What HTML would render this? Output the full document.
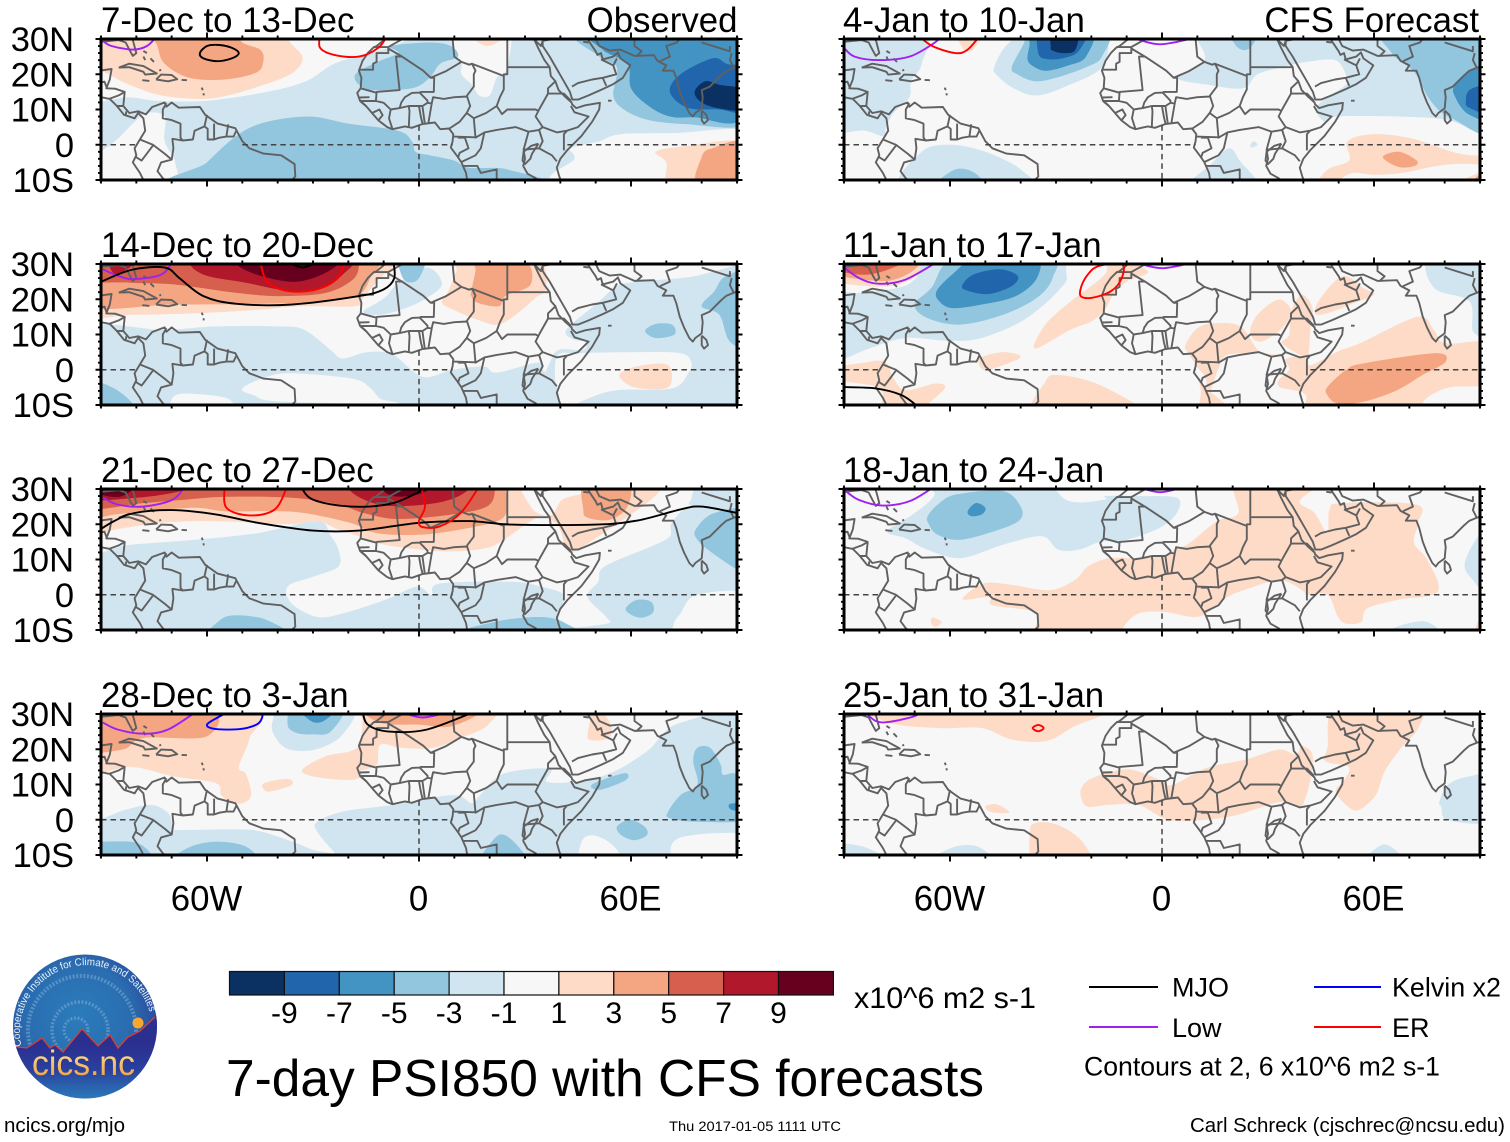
<!DOCTYPE html>
<html lang="en">
<head>
<meta charset="utf-8">
<title>7-day PSI850 with CFS forecasts</title>
<style>
html,body{margin:0;padding:0;background:#fff;width:1510px;height:1142px;overflow:hidden}
svg{display:block}
text{font-family:"Liberation Sans",Arial,sans-serif;fill:#000}
</style>
</head>
<body>
<svg id="chart" xmlns="http://www.w3.org/2000/svg" width="1510" height="1142" viewBox="0 0 1510 1142">
  <rect width="1510" height="1142" fill="#fff"/>
  <defs>
    <radialGradient id="skyGrad" gradientUnits="userSpaceOnUse" cx="78" cy="1015" r="80">
      <stop offset="0" stop-color="#2b7cba"/><stop offset="0.65" stop-color="#2a6db0"/><stop offset="1" stop-color="#2b4a9c"/>
    </radialGradient>
    <linearGradient id="groundGrad" gradientUnits="userSpaceOnUse" x1="0" y1="1045" x2="0" y2="1098">
      <stop offset="0" stop-color="#2b2f90"/><stop offset="0.45" stop-color="#2a3f9c"/><stop offset="1" stop-color="#2a78b8"/>
    </linearGradient>
    <linearGradient id="cicsGrad" gradientUnits="userSpaceOnUse" x1="0" y1="1052" x2="0" y2="1076">
      <stop offset="0" stop-color="#fbdc8a"/><stop offset="1" stop-color="#f2a54a"/>
    </linearGradient>
    <clipPath id="logoClip"><circle cx="85" cy="1026.5" r="72"/></clipPath>
    <path id="logoArc" d="M 21.5 1046 A 66 66 0 1 1 151 1017"/>
  </defs>
  <g id="panels"></g>
  <g id="colorbar"></g>
  <text x="854" y="1008" font-size="30" textLength="182" lengthAdjust="spacingAndGlyphs">x10^6 m2 s-1</text>
  <text x="226" y="1096" font-size="51.5" textLength="758" lengthAdjust="spacingAndGlyphs">7-day PSI850 with CFS forecasts</text>
  <g>
    <line x1="1089" x2="1158" y1="987" y2="987" stroke="#000" stroke-width="2"/>
    <text x="1172" y="996.5" font-size="27">MJO</text>
    <line x1="1314" x2="1381" y1="987" y2="987" stroke="#0000ff" stroke-width="2"/>
    <text x="1392" y="996.5" font-size="27" textLength="109" lengthAdjust="spacingAndGlyphs">Kelvin x2</text>
    <line x1="1089" x2="1158" y1="1027" y2="1027" stroke="#a020f0" stroke-width="2"/>
    <text x="1172" y="1037" font-size="27">Low</text>
    <line x1="1314" x2="1381" y1="1027" y2="1027" stroke="#ff0000" stroke-width="2"/>
    <text x="1392" y="1037" font-size="27">ER</text>
    <text x="1084" y="1075.5" font-size="27" textLength="356" lengthAdjust="spacingAndGlyphs">Contours at 2, 6 x10^6 m2 s-1</text>
  </g>
  <g>
    <circle cx="85" cy="1026.5" r="72" fill="url(#skyGrad)"/>
    <g clip-path="url(#logoClip)" fill="none" stroke="#9cc4e4" stroke-opacity="0.4" stroke-dasharray="2 1.6">
      <circle cx="82" cy="1030" r="54" stroke-width="4"/>
      <circle cx="80" cy="1030" r="28" stroke-width="3.5"/>
      <circle cx="76" cy="1030" r="12" stroke-width="3"/>
    </g>
    <circle cx="138" cy="1023" r="5.5" fill="#f7a832"/>
    <path clip-path="url(#logoClip)" d="M0 1047 L18 1047 L27 1048 L42 1038 L50 1048 L55 1045 L63 1052 L82 1029 L98 1046 L110 1035 L118 1048 L128 1037 L140 1031 L155 1017 L170 1005 L170 1110 L0 1110 Z" fill="url(#groundGrad)"/>
    <path clip-path="url(#logoClip)" d="M0 1047 L18 1047 L27 1048 L42 1038 L50 1048 L55 1045 L63 1052 L82 1029 L98 1046 L110 1035 L118 1048 L128 1037 L140 1031 L155 1017" fill="none" stroke="#d8402f" stroke-width="1.3"/>
    <text font-size="10.5" style="fill:#e8f0f8"><textPath href="#logoArc" textLength="203" lengthAdjust="spacingAndGlyphs">Cooperative Institute for Climate and Satellites</textPath></text>
    <text x="32" y="1075" font-size="35" textLength="103" lengthAdjust="spacingAndGlyphs" style="fill:url(#cicsGrad)">cics.nc</text>
  </g>
  <text x="4" y="1132" font-size="20.5" textLength="121" lengthAdjust="spacingAndGlyphs">ncics.org/mjo</text>
  <text x="669" y="1131" font-size="14" textLength="172" lengthAdjust="spacingAndGlyphs">Thu 2017-01-05 1111 UTC</text>
  <text x="1190" y="1132" font-size="20.5" textLength="315" lengthAdjust="spacingAndGlyphs">Carl Schreck (cjschrec@ncsu.edu)</text>
</svg>
<script>
/* ---------- labels and scale data ---------- */
const panelTitles = ['7-Dec to 13-Dec','14-Dec to 20-Dec','21-Dec to 27-Dec','28-Dec to 3-Jan','4-Jan to 10-Jan','11-Jan to 17-Jan','18-Jan to 24-Jan','25-Jan to 31-Jan'];
const columnHeadings = ['Observed','CFS Forecast'];
const latTickValues = [30,20,10,0,-10];
const latTickLabels = ['30N','20N','10N','0','10S'];
const lonTickValues = [-60,0,60];
const lonTickLabels = ['60W','0','60E'];
const bandValues = [-10,-8,-6,-4,-2,0,2,4,6,8,10];
const bandColors = ['#0a3162','#2166ac','#4393c3','#92c5de','#d1e5f0','#f7f7f7','#fddbc7','#f4a582','#d6604d','#b2182b','#67001f'];
const colorbarTickLabels = ['-9','-7','-5','-3','-1','1','3','5','7','9'];
const lineColors = {MJO:'#000000',Low:'#a020f0',Kelvin:'#0000ff',ER:'#ff0000'};

/* ---------- filled contours: [band, [[lon,lat],...]] ---------- */
const panel1Contours = [
[-2,[[-110,45],[110,45],[110,-25],[-110,-25]]],
[0,[[-95,36],[3,36],[-5,29],[-14,26],[-24,23],[-32,18],[-43,15],[-60,12.5],[-74,12.5],[-82,13.5],[-95,14]]],
[0,[[-95,-6],[-86,1],[-81,6],[-77,9],[-72,8],[-72,1],[-69,-5],[-71,-11],[-95,-12]]],
[0,[[10,35],[25,35],[25,22],[22,19],[20,14],[17,14],[15,17],[12,20],[12,23],[10,26]]],
[0,[[40,-11],[44,-4],[43,-1],[51,1],[57,3],[72,3.3],[95,3.3],[95,-12]]],
[2,[[-95,36],[-37,36],[-37,30],[-33,25],[-35,21],[-41,18],[-54,14],[-62,13],[-73,14],[-82,17],[-90,21],[-95,22]]],
[4,[[-75,33],[-74,28],[-72,23],[-65,19],[-55,18.5],[-46,20.5],[-44,24],[-45,27],[-50,29],[-54,33]]],
[2,[[15,31],[24,31],[23,29.5],[19,28]]],
[-4,[[-8,28],[3,29],[9,28],[11,25],[6,23],[3,19],[-2,16],[-13,15.5],[-17,17],[-18,20],[-13,23],[-6,26]]],
[-4,[[-66,-12],[-60,-5],[-51,3],[-43,6.5],[-31,8],[-20,6],[-6,4],[-2,1],[-1,-2],[3,-3],[10,-4.5],[14,-6.5],[25,-7],[31,-12]]],
[-4,[[46,33],[51,25],[56,22],[55,14],[58,10],[65,7],[76,5.8],[92,5.5],[96,15],[96,35]]],
[-6,[[50,33],[52,27],[59,23],[60,16],[65,11],[71,8],[78,7.8],[92,8],[96,34]]],
[-8,[[71,15],[74,20],[83,24.5],[87,23],[92,21],[95,9],[85,10],[76,10.5]]],
[-10,[[78,15],[81,18],[85,17],[92,15.5],[92,10],[85,10.3],[80,12]]],
[2,[[67,-2],[75,-0.5],[92,0.5],[94,-12],[72,-12],[70,-5]]],
[4,[[80,-3.5],[83,-1],[92,0.5],[94,-12],[79,-12]]]
];
const panel2Contours = [
[-2,[[-95,11],[-72,11.3],[-57.5,12.3],[-39.6,12.3],[-32.4,11.3],[-25,5.6],[-21.6,3.2],[-14.5,5],[-7.3,4.2],[1,-2],[9.5,0],[18.4,0.9],[22,-0.8],[33.4,2],[35,0],[38,-3],[39.4,-7],[39.5,-13],[-95,-13]]],
[0,[[-50,-5.3],[-43,-2],[-36,-1],[-19,-2.5],[-14,-5],[-11,-8.2],[-7.3,-9.6],[-39.6,-9],[-46.8,-7.2]]],
[0,[[-69.5,-7.7],[-64.7,-6.8],[-54,-8.2],[-54,-12],[-69,-12]]],
[-4,[[-92,-4],[-86.3,-5.3],[-81,-9.6],[-81,-12],[-92,-12]]],
[-2,[[41.7,11.3],[50,18.5],[56,23.7],[62,25],[74,26],[80,27],[91,30],[96,32],[96,-13],[39.4,-13],[38,4.2],[46.5,5.6],[47,8],[44,8.5]]],
[0,[[39.4,4.2],[45.3,4.7],[62,5],[74,4.7],[77,2.3],[76.4,-0.6],[71.6,-5.3],[56,-5.8],[47.7,-8.2],[42.5,-11],[40,-13],[39.5,-7],[38.5,-2]]],
[-4,[[80,18],[83.6,22.3],[86,26],[91,28],[94,26],[94,7],[88,8],[85,15.6]]],
[-2,[[-15.7,16.5],[-9.7,20.4],[-6,24.4],[2.3,29],[6.5,24.4],[2.3,20.4],[-3.7,17.5],[-11,15.6]]],
[-4,[[-5.5,32],[1.7,32],[0,26],[-3,24.8],[-5,27]]],
[-4,[[64,11],[67,13],[71.6,12.8],[72.3,10],[67,9]]],
[2,[[56.7,-1.5],[62,1],[70.5,1.3],[70.5,-5],[61,-5]]],
[2,[[-96,16],[-81.5,15.6],[-63.5,16],[-45.6,17],[-33.6,18],[-18,18],[-15.7,20.4],[-11,26],[-6.7,30],[-6.7,36],[-96,36]]],
[4,[[-96,18.5],[-69.5,18.5],[-45.6,18.7],[-27.6,19.4],[-17,21.3],[-13.3,27],[-11,30],[-11,36],[-96,36]]],
[6,[[-96,26],[-81.5,24.7],[-69.5,24.2],[-51.6,21.8],[-39.6,20.9],[-26.4,21.8],[-18.7,25.6],[-16.9,30],[-16.9,36],[-96,36]]],
[8,[[-64,31],[-61,27],[-49,24.7],[-36,22.3],[-26.4,23.7],[-21.6,27],[-19,31],[-30,34],[-50,34]]],
[8,[[-87.5,31],[-85.6,27],[-80,31]]],
[10,[[-51,31],[-47.4,27.5],[-37,25],[-30,26],[-24,29],[-23.4,31],[-35,34]]],
[2,[[6.5,19],[8.3,22.3],[10.6,28],[11.8,31],[33,31],[36,23.2],[33,20.4],[28.6,16.6],[22.6,12.8],[16.6,14.2],[10.6,16.6]]],
[4,[[14.8,22.3],[16,28],[16.6,31],[29.8,31],[31.6,24.2],[24.4,20.9],[22.6,18],[16.6,19],[14.8,20.9]]]
];
const panel3Contours = [
[-2,[[-110,45],[110,45],[110,-25],[-110,-25]]],
[0,[[-96,12.8],[-81.5,14.2],[-63.5,15.6],[-45.6,17.5],[-28.8,20.9],[-25.2,17],[-22.8,12.8],[-22.8,8],[-30,5.1],[-37.2,2.3],[-36,-2.5],[-28.8,-6.3],[-21.6,-5.3],[-9.7,-1.5],[-0.7,2.3],[3.5,0],[5.9,3.2],[26.2,3.7],[34.6,2.3],[41,0],[40,-4.4],[40.5,-9.1],[53,-8.2],[53,-6.3],[47.7,-0.6],[50.7,3.7],[52.5,8],[65.7,13.7],[71,16.6],[71.6,20.4],[77.6,25],[96,24.7],[96,36],[-96,36]]],
[0,[[74,-5.3],[78.8,0],[94,0],[94,-12],[73.4,-12],[72,-8.7]]],
[-2,[[77,27],[80,31],[94,31],[94,23],[78,25]]],
[-4,[[78.3,18.5],[83.6,23.2],[94,23.2],[94,6.6],[91,6.6],[82.4,12.3],[78.8,15.6]]],
[-4,[[58.5,-3.9],[61.5,-1.5],[65.7,-2],[66.3,-4.9],[63.3,-6.5],[60.3,-5.8]]],
[-4,[[-58.7,-12],[-56.3,-7.2],[-51.6,-5.8],[-43,-7.2],[-37,-12]]],
[-4,[[9.5,-12],[21.4,-7.7],[34.6,-6.3],[41.7,-8.2],[44,-12]]],
[2,[[-96,17],[-86,18.5],[-73,20.4],[-57.5,20.9],[-37,20],[-28.8,20.9],[-22.8,18.5],[-16.9,16.6],[-9.7,14.2],[2.3,12.6],[9.5,12.3],[17.9,13],[22.6,14.7],[31,20.4],[35,22.3],[39.4,19.4],[41.7,13.2],[44,12.3],[53.7,18.5],[62,24.2],[66.8,28],[68.7,31],[68,36],[-96,36]]],
[0,[[29.8,32],[31.6,25],[35,22.6],[38,23],[40.6,27],[46.6,29],[47,32]]],
[4,[[-96,22],[-86,22.8],[-77.5,23.7],[-63.5,24.7],[-55,23.7],[-42,23.7],[-32.5,23.2],[-19.5,20.4],[-12,17.5],[0,17],[11.6,18.5],[23,21.3],[25,26],[24,32],[24,36],[-96,36]]],
[4,[[46.5,24.2],[47.7,21.9],[54,21.3],[59,25],[59,32],[47,32]]],
[6,[[-96,24.7],[-78,26],[-66,27],[-54,27.8],[-36,27.5],[-22.8,25.6],[-15.7,23.2],[-6,21.5],[9.5,22.8],[19.6,25.3],[21.6,31],[21,36],[-96,36]]],
[8,[[-96,27.5],[-80,27.5],[-67,29.5],[-64,32],[-64,36],[-96,36]]],
[8,[[-19.5,31],[-11,25.5],[4.7,26],[13,29],[13.5,32],[0,35]]],
[10,[[-92,32],[-80,32],[-84,28],[-90,28.5]]],
[10,[[-11,31],[-7.3,28],[0,28.5],[3.5,31],[-3,33]]]
];
const panel4Contours = [
[-2,[[-96,-0.5],[-89.4,0.5],[-83.2,2.8],[-75.7,4.2],[-71,1.9],[-69.6,-2],[-69,-2.9],[-52,-2.7],[-44.5,-3.4],[-35,-6.5],[-30,-8.5],[-24,-10],[-24,-13],[-96,-13]]],
[-2,[[-28.8,-0.6],[-21.6,2.3],[-7.3,4.2],[9.5,7],[14.9,4.7],[17.3,7],[23.8,13],[37,14.5],[36,10.9],[43,10.7],[53.7,13],[64.5,19.4],[74,27.5],[96,28],[96,-13],[-21.6,-13],[-23.4,-10],[-28.8,-3.4]]],
[0,[[46,-6.3],[49,-4.4],[53.7,-6.3],[57,-10],[57,-13],[46,-13]]],
[0,[[73.4,-5.3],[94,-4.4],[94,-13],[74,-13]]],
[-4,[[70.5,2.3],[74,7],[78.8,10],[77.6,16.6],[78.8,20.4],[82.4,20.4],[85.4,15.6],[86,12.8],[90,12.8],[93,6],[93,0],[78.8,-0.6],[71,0.4]]],
[-6,[[88,4.5],[93,4.5],[93,2.5],[88.5,2.8]]],
[-4,[[49,10],[58,13.2],[58.6,11.3],[51.3,8.5]]],
[-4,[[56,-2],[59.7,0],[63.9,-2],[64.5,-4.4],[60.9,-5.8],[57.3,-4.4]]],
[-4,[[-70,-12],[-68,-9.5],[-63.4,-7.2],[-57,-6.2],[-50,-7.2],[-46.5,-9.5],[-45,-12]]],
[-4,[[17.8,-12],[21.4,-5.3],[24.4,-4.4],[28.6,-8.2],[30,-12]]],
[-4,[[-94,-6.2],[-89.5,-6.2],[-82,-6.2],[-78.5,-7.2],[-76,-9.5],[-75,-12],[-94,-12]]],
[-2,[[-41.4,28],[-38,32],[-19,32],[-21.6,24.2],[-29,20],[-37,20],[-41,24]]],
[-4,[[-37.2,27],[-35,32],[-21.6,32],[-25,25],[-30,24.2],[-34.8,24.7]]],
[-6,[[-33.6,32],[-23.4,32],[-27,28],[-30.6,28]]],
[2,[[-96,14],[-81.5,15],[-69.5,12.3],[-57.5,10.4],[-56,7],[-53,5],[-50,4.7],[-47.5,7],[-49,13],[-51,15],[-48,23],[-47.5,32],[-96,36]]],
[4,[[-96,20.4],[-84,19.9],[-78,23.2],[-60,23.7],[-60,32],[-96,36]]],
[2,[[-33,14.2],[-26.4,18],[-17.5,20.4],[-16,28],[-15.7,33],[19.6,33],[19.6,27],[11.8,23.2],[4,20.4],[-5,20.4],[-11,21.3],[-12,15.6],[-17,13.7],[-17,11.8],[-21.6,11.3],[-30,12.3]]],
[4,[[-14,32],[-11,27.5],[0,27],[9.5,26.6],[17,32]]],
[2,[[-43.8,10.4],[-37.2,11.6],[-36,9.9],[-42,8],[-43.8,8.5]]],
[2,[[47.7,24.2],[50,32],[54.3,27],[53.7,23.2],[49,22.5]]]
];
const panel5Contours = [
[-2,[[-96,33],[-68,33],[-68,23],[-71,18],[-71.5,13.5],[-76,9],[-78,5],[-79,2.5],[-84,4],[-96,6]]],
[-2,[[-47.5,22],[-45,27],[-41,31],[-38,33],[-14,33],[-15,30],[-15.5,25],[-18,21],[-25,17.5],[-35,14],[-42,16],[-47,20]]],
[-4,[[-42.5,22],[-39,29],[-38,33],[-16,33],[-17,25],[-21.5,22],[-30,19],[-36,18],[-41,20]]],
[-6,[[-38,24],[-37.5,28],[-36,33],[-20,33],[-21.5,25],[-26.5,22.5],[-32.5,21],[-36,22]]],
[-8,[[-35,26],[-34,33],[-21.5,33],[-23.5,26.7],[-27.7,24.6],[-32.5,24.3]]],
[-10,[[-31.5,28],[-31,33],[-24,33],[-24.5,27],[-27.7,26],[-31,26.7]]],
[-2,[[10,34],[97,34],[97,3],[81,7],[66,8],[49.5,8],[46,6.5],[44,11],[52,17],[52,20],[49,24],[41,23.5],[34,22],[27,20],[23,16],[13,17],[4.5,19],[12,24],[10,30]]],
[-4,[[63,34],[65,26],[71.5,20.5],[76,12.5],[82,7.5],[95,4],[95,34]]],
[-6,[[83,13.5],[83,17],[89.5,22],[95,20],[95,7],[87,8.5]]],
[-8,[[86,12.5],[87,15.5],[92,17],[95,15],[95,8],[87,10.5]]],
[-4,[[19,33],[27,33],[25,27.5],[21.5,27.5]]],
[-2,[[-73,-12],[-68,-2],[-60,0],[-50,-2],[-40,-7],[-39,-12]]],
[-4,[[-64,-12],[-58.5,-7],[-53,-8],[-51,-12]]],
[-2,[[8,-12],[14,-5.4],[19,-1],[22,-4.5],[26.5,-12]]],
[-2,[[25,0],[26,1],[27,0],[25.5,-0.8]]],
[2,[[43,-12],[47,-7],[53,-4.4],[52.5,1],[60,3],[71,1.7],[84,-2.5],[95,-3.5],[95,-6],[86,-5.4],[78,-6],[68,-8],[60,-8.5],[54,-8],[50,-10],[46,-12]]],
[4,[[62.5,-3.5],[67,-2],[72,-4.4],[71.5,-6],[67,-6.3]]],
[2,[[82,-12],[92,-7],[95,-7],[95,-12]]],
[4,[[87,-12],[92,-7],[94,-12]]],
[2,[[-58,32],[-51,32],[-53.5,27],[-56,27]]]
];
const panel6Contours = [
[2,[[-96,26],[-77,23.7],[-67,28.5],[-63,33],[-96,34]]],
[4,[[-96,28],[-77,25.3],[-69,32],[-96,34]]],
[6,[[-96,29.5],[-83,27],[-72.5,32],[-96,34]]],
[-2,[[-96,3],[-90,3.2],[-83,6],[-72.5,9],[-60.5,8.2],[-51,9],[-39,14.2],[-29.4,22.3],[-27,27],[-32,33],[-63,33],[-70,25.6],[-75,23.2],[-85.7,21.8],[-96,20.9]]],
[-4,[[-70,18.5],[-65.3,23.2],[-58,32],[-32,32],[-31,26],[-35.4,20.4],[-45,15.6],[-57,12.8],[-66.5,14.7]]],
[-6,[[-63.8,22.3],[-59.4,27],[-52,32],[-36,32],[-35.4,26],[-41.4,20.9],[-51,18.5],[-59.4,17.5],[-63,19.4]]],
[-8,[[-56.6,23.7],[-53.4,27],[-46,28.5],[-40.8,26.6],[-42.6,23.7],[-49,21.5],[-54.6,22.3]]],
[-2,[[76,32],[77,23.2],[87,19.4],[88,10.9],[92,10.4],[95,20],[95,32]]],
[2,[[-36,6],[-33,12.8],[-25.8,19.4],[-16.2,27],[-15,32],[-4,28],[-10,25],[-13.8,21.3],[-16.2,17],[-20,13.7],[-26,11.3]]],
[2,[[25,10.4],[27,15.6],[33,19.9],[36.6,16.6],[34,11.8],[28,8]]],
[2,[[36.6,16.6],[39.6,21.3],[42.6,17.5],[42,11.8],[41.4,4.2],[40,3.7],[34,7.5],[36,9.9]]],
[2,[[43.8,18.5],[48,24.2],[52,26.6],[57,23.2],[60,21.3],[54.6,19],[48.6,16.6],[43.8,15.6]]],
[2,[[6.6,7],[10,11.8],[15,13.2],[22.2,12.3],[27.6,5.1],[32.4,4.2],[27,4.7],[18.6,4.2],[16,0.4],[12.6,-9.6],[11.4,-12],[12.6,-3.4],[9.6,1.3],[7.2,5.1]]],
[2,[[42,1.3],[50,5.3],[56,7.5],[72.3,15],[77,11.2],[80.3,7.5],[94,7.5],[94,-3.4],[82,-4.9],[77,-6.7],[74,-9],[72,-13],[43,-13],[40.5,-7],[33.5,-5],[33,-3],[36,0],[35,3],[40,3.7]]],
[4,[[46.8,-4.9],[52.2,0],[57,1.8],[77.3,4.7],[80.3,2.3],[73.7,-1.5],[66.5,-5.8],[57,-9.1],[49.8,-9.6],[46.8,-7.2]]],
[2,[[-35.4,-13],[-33,-3.4],[-29.4,-1.5],[-18.6,-3.9],[-5.4,-11],[-5,-13]]],
[2,[[10.2,-2.5],[12.6,-5.3],[18,-10],[19,-13],[11,-13],[11,-6]]],
[2,[[-96,0],[-85.7,1.8],[-78.5,2.3],[-76,-2.5],[-72.5,-5.8],[-64,-3.9],[-61.5,-5.3],[-67.5,-11],[-68,-13],[-79,-13],[-80,-5.3],[-96,-2.5]]],
[2,[[-51.6,3.2],[-45,5],[-40,3.7],[-45,1.3],[-50.4,0]]]
];
const panel7Contours = [
[-2,[[-77.7,18],[-70.5,22.8],[-64.5,28],[-64,33],[-36,33],[-26.4,26.6],[-16.2,27],[-16,28],[-6.6,28],[4.2,27.5],[4.2,23.2],[-0.6,19],[-10,15.6],[-17.4,15],[-23.4,12.8],[-29.4,12.8],[-34,16.6],[-45,14.2],[-57,10.4],[-66.5,12.8],[-72.5,16]]],
[-4,[[-66.3,22.3],[-63,26],[-58,28.5],[-45,29.4],[-40,25],[-40.2,21.3],[-46,18.5],[-57,15.6],[-63.5,17],[-66,20]]],
[-6,[[-55,23.7],[-52.7,26],[-50,24.7],[-51,22.8],[-54,22.3]]],
[2,[[-24.6,4.2],[-21,8],[-15,10.4],[-7.8,10.4],[0.6,11.3],[3.6,12.8],[7.8,14.7],[15.6,20.9],[21.6,23.2],[21.6,33],[45,33],[39,26.6],[43.2,23.2],[46.8,17.5],[47.4,24.2],[51,26],[72,25.6],[72.5,20.4],[71.3,14.7],[75,10],[78,0.9],[66.5,-1.5],[58,-3.9],[56.4,-7.7],[52.2,-8.2],[49.8,-6.3],[46.8,0],[40.8,0],[40.2,0.9],[35.4,3.7],[30.6,3.7],[24.6,1.8],[18.6,-0.6],[13.2,-4.9],[9,-6.3],[0.6,-4.9],[-6.6,-5.3],[-10.8,-9.1],[-10.8,-13],[-35,-13],[-35.4,-5.3],[-48,-3],[-48.6,-0.6],[-56.4,-1.3],[-50.4,3.2],[-42.6,2.8],[-31.8,1.3]]],
[2,[[-65,-6.5],[-62.4,-7.7],[-64,-9.1],[-65.3,-8.2]]],
[2,[[88.7,-11],[90.2,-6.3],[93,-6],[93,-13]]],
[-2,[[85.7,9],[90.2,17.5],[94,17.5],[94,-1],[88,4.2]]],
[-2,[[61.8,-12],[67.7,-8.7],[75,-7.7],[78.5,-12]]]
];
const panel8Contours = [
[2,[[-82,33],[-77,27.5],[-63,26],[-51,26],[-42.6,22.8],[-33,22.3],[-25.8,26],[-16.2,33]]],
[2,[[46.8,20.4],[49.8,33],[72.7,33],[72.5,26],[67.7,20.4],[63,13.7],[60.5,7],[55.8,2.8],[52.7,3.7],[49.2,8],[51.6,11.3],[52.8,15],[46.2,16.6]]],
[2,[[-22.8,9],[-19.8,11.8],[-11.4,14.2],[-6.6,13.7],[-0.6,11.3],[3,9.9],[12.6,14.7],[23.4,17],[33,19.9],[37.8,18.5],[39.6,20.9],[42.6,18.5],[42,11.3],[40.2,5.1],[39,3.7],[34.2,5.1],[27,3.2],[21,1.3],[12.6,0],[1.8,0],[-6.6,4.2],[-15,4.2],[-21,3.7],[-22.8,6]]],
[2,[[-50,3.7],[-46.8,4.4],[-43.2,2.1],[-48,2.1]]],
[2,[[-37.4,-3.4],[-35.4,-0.8],[-29.4,-1.5],[-23.4,-5.3],[-19.5,-11],[-19,-13],[-35.4,-13]]],
[-2,[[78.5,5.1],[81,10],[87,12.3],[94,12.3],[94,-0.1],[81,-0.1],[79,3.7]]],
[-2,[[-94,-7.2],[-85,-7.5],[-78,-11],[-78,-13],[-94,-13]]],
[-2,[[-65,-12],[-58.8,-7.7],[-52,-7.7],[-48.6,-12]]],
[-2,[[57.5,-12],[63,-7],[68.4,-12]]]
];

/* ---------- anomaly contour lines: [kind, closed, [[lon,lat],...]] ---------- */
const panel1Lines = [
['MJO',true,[[-62,26],[-60,28],[-56.5,28.3],[-53,27.5],[-51,26],[-53,24.5],[-57,23.7],[-61,24.5]]],
['ER',false,[[-28,31],[-28,27.5],[-24,25.5],[-17,25],[-11.5,27.5],[-9,31]]],
['Low',false,[[-89.5,29.5],[-87,28],[-81,27],[-77,28],[-74,31]]]
];
const panel2Lines = [
['Low',false,[[-89.5,28.5],[-85.3,26.7],[-81,25.7],[-73,27],[-69.5,31]]],
['MJO',false,[[-91,24.5],[-81.5,28.3],[-72,29],[-67.8,26],[-61,20.9],[-51.6,18.7],[-36,18.5],[-17,20.9],[-10,22.8],[-7,26],[-7.3,31]]],
['MJO',false,[[-37.8,31],[-33,29],[-28,31]]],
['ER',false,[[-45,31],[-43,25],[-37,22.3],[-29,22.8],[-23,26],[-21,31]]]
];
const panel3Lines = [
['Low',false,[[-89.5,27.6],[-85.3,25.6],[-78,25],[-69.7,27],[-66,31]]],
['MJO',false,[[-91,18],[-86.3,20.9],[-80.5,23.2],[-69.7,24],[-57.5,22.8],[-45.6,20.4],[-30,18.2],[-16.9,18.2],[0,20.4],[14.2,20.9],[26.2,19.9],[50,19.9],[62,21.1],[74,24.2],[80,25],[91,23]]],
['MJO',false,[[-33.6,31],[-30,27],[-19.3,25],[-7.3,26],[3.5,31]]],
['ER',false,[[-55,31],[-54.5,24.7],[-48,22.5],[-40.8,24.2],[-37.2,31]]],
['ER',false,[[0.5,31],[1.7,25],[0,21],[1,19.2],[5.9,19.4],[11.8,23.2],[17.2,31]]]
];
const panel4Lines = [
['Low',false,[[-89.5,27.6],[-85.3,25.6],[-78,24.4],[-71,25.6],[-62.6,31]]],
['Kelvin',false,[[-53,31],[-57,29],[-60,27],[-58,25.8],[-51,25.7],[-46,27],[-44.4,29],[-44.4,31]]],
['MJO',false,[[-16,31],[-14.5,27],[-8.5,25],[2.3,25.6],[16.6,31]]],
['Low',false,[[-4.9,30.5],[1,29],[8.3,30.5]]]
];
const panel5Lines = [
['Low',false,[[-90,27.5],[-87,25],[-80,24],[-71.5,25],[-65,28.5],[-62,31]]],
['ER',false,[[-69,31],[-65,28],[-58.5,26],[-55,27],[-51.5,31]]],
['Low',false,[[-8.6,30.5],[-0.6,28.5],[10,30.5]]]
];
const panel6Lines = [
['Low',false,[[-90,29],[-85.7,26],[-80.3,24.4],[-72.5,25.6],[-63,31]]],
['ER',true,[[-21,27],[-18,29.4],[-11.4,30],[-11.4,26],[-14.4,22.3],[-19.8,20.4],[-23,20.9],[-22.8,23.7]]],
['MJO',false,[[-91,-4.9],[-81,-5.3],[-73.7,-7.2],[-69,-10.5]]],
['Low',false,[[-7.8,30.5],[0,28.8],[9,30.5]]]
];
const panel7Lines = [
['Low',false,[[-89.5,29.4],[-85.8,26.9],[-79.2,25.3],[-71.3,26.6],[-64,31]]],
['Low',false,[[-6.6,30.5],[-0.6,29.1],[6,30.5]]]
];
const panel8Lines = [
['Low',false,[[-84.5,31],[-81,28],[-77,27.8],[-70,29.4],[-68,31]]],
['ER',true,[[-36.6,26],[-35,26.9],[-33.5,26],[-35,25.1]]]
];

/* ---------- coastlines and borders in lon/lat ---------- */
const coastlines = [
[[-97.7,22.5],[-96,19],[-94.5,18.2],[-91.5,18.5],[-90.5,21],[-87,21.5],[-87.5,18.5],[-88.5,16],[-86,15.9],[-83.3,15],[-83.7,11],[-82,9],[-79.5,9.5],[-77.3,8.6],[-75.5,10.7],[-72,12],[-71.5,10.8],[-70,12],[-68,10.5],[-62,10.7],[-60.5,8.5],[-57,6],[-52,4.7],[-50,1],[-48,-1],[-44,-2.5],[-39,-3],[-35.2,-5.5],[-35,-9],[-37,-11]],
[[-92,14.5],[-90,13.5],[-87.5,13],[-85.5,11],[-83.5,8.5],[-80.5,7.5],[-79.5,9],[-78,7.5],[-77.5,4],[-79,1.5],[-80.5,-1],[-80,-3],[-81,-5],[-79,-8],[-77.5,-11]],
[[-94,29.5],[-90,29.2],[-85,29.7],[-83,29],[-82,27],[-81,25.2],[-80,26],[-80.8,29],[-81.4,31]],
[[-85,21.9],[-82,23],[-78,22.3],[-74.2,20.2],[-77.5,19.9],[-78,20.7],[-82,22],[-85,21.9]],
[[-74.4,18.5],[-73,19.9],[-70,19.8],[-68.4,18.6],[-71,18],[-74.4,18.5]],
[[-78.3,18.3],[-76.3,18.1]],[[-67.2,18.4],[-65.7,18.3]],
[[-78,26.6],[-77,26]],[[-78,25],[-77.5,24]],[[-76,24.5],[-75,23.5]],[[-73.5,21],[-73,21.3]],
[[-61.5,16.2],[-61.2,15.5]],[[-61,14.6],[-60.9,14]],
[[-9.5,31],[-9.8,29.8],[-12,28],[-13,27.5],[-14.5,26],[-16,23.8],[-17,21],[-16.3,19],[-16.5,16],[-17.5,14.7],[-16.7,12.5],[-15,11],[-13.3,9],[-11.5,6.9],[-9,5],[-7.5,4.4],[-4,5.2],[-2,4.8],[1,5.9],[4.5,6.3],[6,4.4],[8.5,4.6],[9.7,3],[9.5,1],[9,-0.8],[11,-3.5],[12,-5],[13.3,-8],[13.8,-11]],
[[32.6,31],[32.6,29.9],[33.7,27.5],[35.5,24],[37,22],[37.3,19.5],[38.6,18],[39.5,15.5],[41.5,13.5],[43.2,12],[43.3,11.5],[44.5,10.4],[47,11.2],[51.2,11.9],[51,10],[49,6.5],[46,2.5],[42,-1.5],[40,-4],[39,-6.5],[39.7,-9],[40.5,-11]],
[[32.6,29.9],[34.5,28],[35,29.5]],
[[35,29.5],[35,28],[37,25],[39,21.5],[41,18],[42.7,15],[43.4,12.8],[45,12.8],[48,14],[52,15.8],[55,17.2],[57.7,19],[59.8,22.5],[57,24.5],[56.3,26.2],[55,25],[52,24.2],[51.5,26],[50.5,25.5],[50,26.5],[48,29.5],[48.5,30.3],[50,30],[51,28],[54,26.7],[57,27],[61,25.2],[66.5,25.4],[67.5,23.8],[70,22.5],[69,21],[72,21],[72.8,19],[73.8,15],[75,12],[76.5,9],[77.5,8],[78.2,9],[80,10.3],[80.3,13.5],[80,15.5],[82.3,16.5],[85.5,19.7],[87,21],[89,21.8],[91,22.5],[92,21]],
[[80,9.7],[81.3,8.5],[81.8,7],[80.7,6],[80,7],[80,9.7]],
[[53.5,12.5],[54.5,12.5]],
[[33.8,0.3],[31.8,-0.3],[29.6,-2],[29.3,-4.5],[30,-5.5],[31.5,-4],[32,-2.5],[33.8,0.3]]
];
const borderlines = [
[[-92,14.5],[-91,17.5],[-89,17.9],[-88.3,16]],[[-87.7,13],[-85,14],[-83.3,15]],[[-85.7,11],[-83.7,11]],[[-83,8.5],[-82.8,9.5]],
[[-71.5,11.8],[-72.5,10],[-72.5,7.5],[-70,7],[-67.5,6],[-67.5,2],[-66.9,1.2],[-69.8,1.7],[-69.5,-1],[-70,-4.2],[-73,-5],[-74,-7.5],[-72.5,-9.5],[-70.6,-11]],
[[-78.8,1.4],[-75.3,0],[-72,-2.5],[-70,-4.2]],[[-80.3,-3.4],[-78.5,-4.5],[-75.2,-0.1]],
[[-66.9,1.2],[-64,1.5],[-63.5,4],[-60.7,5.2],[-60,8.5]],[[-60.7,5.2],[-59.8,4.5],[-59.8,1.5],[-58,1.5],[-56.5,2],[-54.5,2.3],[-52.5,2.3],[-51.6,4.2]],
[[-58,1.5],[-58,6]],[[-54,5.8],[-54.5,2.3]],[[-69.5,-11],[-65.4,-10],[-65,-11]],
[[-13,27.7],[-8.7,27.7],[-5,29.8],[-3,31]],[[-17,21.3],[-13,21.3],[-13,23],[-12,23.5],[-12,26],[-8.7,26],[-8.7,27.7]],
[[-8.7,27.3],[-4.8,25],[-6.5,25],[-5.5,15.5],[-12,15],[-12.2,14.8],[-16.5,16]],
[[-4.8,25],[1.2,21],[3.3,19],[4.3,19],[4.2,15],[0.5,15],[0.2,14.8],[-2,14.7],[-4,13.5],[-5,12],[-5.5,10.4]],
[[3.3,19],[7.5,20.8],[12,23.5],[10,25],[9.5,30],[10,31]],
[[12,23.5],[14.2,22.7],[15,23],[16,21],[15.5,20],[15.5,16.5],[13.6,14],[13.6,13.7]],
[[15,23],[24,19.5],[24,20],[25,20],[25,31]],[[25,22],[37,22]],
[[24,19.5],[24,15.7],[22.9,13.5],[22,11],[23.5,8.7],[25,10],[33,10],[34,9.5]],
[[22,11],[19,9],[15.5,7.5],[13.5,9],[14.5,11],[13.6,13.7],[10,13.5],[7,13],[4,13.5],[3.6,11.7],[2.7,6.3]],
[[13.5,9],[11.5,6.5],[8.6,4.6]],[[1.6,6.2],[1,10.8],[0.9,11]],
[[-5.5,10.4],[-2.9,11],[1,11],[2.4,11.9],[3.6,11.7]],[[0.2,14.8],[2.4,12.5],[2.4,11.9]],
[[-2.9,5],[-2.7,9.5],[-2.9,11]],[[1,6],[0.5,8],[0,10.9]],
[[-7.5,4.4],[-8.5,7.5],[-8,10],[-5.5,10.4]],[[-12.2,12.4],[-10,11.9],[-8,10]],
[[-12,15],[-12.2,12.4],[-16.7,12.4]],[[-16.8,13.4],[-14,13.5]],
[[-13.3,9],[-11.2,10],[-10.3,8.4],[-11.5,6.9]],[[-16.7,12.4],[-15,11]],
[[9.8,2.3],[16,2.1]],[[11,2],[13,2],[14,-1],[11.5,-2.3],[11,-3.8]],
[[15.5,7.5],[16,2],[18.5,3.5],[22,4.2],[27.4,5],[31,3.7],[34,4.2],[35,5],[39,3.5],[41.9,4],[45,5],[48,8],[44,9.2],[43,11]],
[[34,10],[33,8],[35,5]],[[34,10],[36.5,14.5],[36.5,16],[38.6,18]],[[36.5,14.5],[41,14.5],[43,12.5]],
[[31,3.7],[29.6,-1.4],[34,-1],[35,1],[34,4.2]],[[41,-1.6],[41,3],[41.9,4]],[[34,-1],[37.6,-3],[39,-4.7]],
[[29.6,-1.4],[30,-4],[29.5,-6],[30.7,-8.2],[33,-9.5],[34.5,-11]],
[[18.5,3.5],[17.5,-1],[16,-3],[12,-4.9]],[[12.3,-6],[16.5,-6],[17.5,-8],[22,-7],[22,-11]],
[[48,30],[46,31]],[[61,31],[61,28],[63,26.5],[61.5,25.1]],[[74.5,31],[73,29],[70,28],[71,25],[68.2,23.7]],
[[80,29],[88,26.5],[88,28]],[[88.5,26],[88,24],[89,22]],[[92,25],[92,21]],
[[51.5,24.2],[55,22.5],[55.8,20],[52,19],[49,18.5],[45,17.5],[43.3,16.5]],[[52,19],[53,16.7]],
[[35,29.5],[38,30],[40,31]],[[48,29],[46.5,29.2]],[[56,24.5],[55,22.5]]
];
/* grid lines are masked over land: ocean spans only */
const equatorOceanSpans = [[-90,-80],[-50,9.5],[42,90]];
const meridianOceanSpan = [5.5,-10];

/* ---------- helpers and axis functions ---------- */
const SVG_NS = 'http://www.w3.org/2000/svg';
const PANEL_W = 636, PANEL_H = 141;
const columnLeft = [101, 844];
const rowTop = [39, 264, 489, 714];
function lonScale(left){ return function(lon){ return left + (lon + 90) * PANEL_W / 180; }; }
function latScale(top){ return function(lat){ return top + (30 - lat) * PANEL_H / 40; }; }
function colorFor(value){ return bandColors[bandValues.indexOf(value)]; }
function make(tag, attrs, parent){
  const el = document.createElementNS(SVG_NS, tag);
  for (const k in attrs) el.setAttribute(k, attrs[k]);
  parent.appendChild(el);
  return el;
}
function smoothPath(pts, closed){
  const n = pts.length;
  const at = function(i){ return closed ? pts[(i + n) % n] : pts[Math.max(0, Math.min(n - 1, i))]; };
  let d = 'M' + pts[0][0].toFixed(1) + ' ' + pts[0][1].toFixed(1);
  const segs = closed ? n : n - 1;
  for (let i = 0; i < segs; i++){
    const p0 = at(i - 1), p1 = at(i), p2 = at(i + 1), p3 = at(i + 2);
    const c1x = p1[0] + (p2[0] - p0[0]) / 6, c1y = p1[1] + (p2[1] - p0[1]) / 6;
    const c2x = p2[0] - (p3[0] - p1[0]) / 6, c2y = p2[1] - (p3[1] - p1[1]) / 6;
    d += 'C' + c1x.toFixed(1) + ' ' + c1y.toFixed(1) + ' ' + c2x.toFixed(1) + ' ' + c2y.toFixed(1) + ' ' + p2[0].toFixed(1) + ' ' + p2[1].toFixed(1);
  }
  return d + (closed ? 'Z' : '');
}
function polyPath(pts){
  return pts.map(function(p, i){ return (i ? 'L' : 'M') + p[0].toFixed(1) + ' ' + p[1].toFixed(1); }).join('');
}

/* ---------- panels ---------- */
const panelContours = [panel1Contours,panel2Contours,panel3Contours,panel4Contours,panel5Contours,panel6Contours,panel7Contours,panel8Contours];
const panelLines = [panel1Lines,panel2Lines,panel3Lines,panel4Lines,panel5Lines,panel6Lines,panel7Lines,panel8Lines];
const panelsRoot = document.getElementById('panels');
const defsEl = document.querySelector('defs');

panelTitles.forEach(function(title, idx){
  const col = idx < 4 ? 0 : 1;
  const row = idx % 4;
  const left = columnLeft[col], top = rowTop[row];
  const X = lonScale(left), Y = latScale(top);
  const project = function(p){ return [X(p[0]), Y(p[1])]; };

  const clip = make('clipPath', {id:'clip' + idx}, defsEl);
  make('rect', {x:left, y:top, width:PANEL_W, height:PANEL_H}, clip);

  const g = make('g', {}, panelsRoot);
  
  

  const bg = make('rect', {x:left, y:top, width:PANEL_W, height:PANEL_H, fill:colorFor(0)}, g);
  
  

  const fills = make('g', {'clip-path':'url(#clip' + idx + ')'}, g);
  
  
  panelContours[idx].forEach(function(c){
    const el = make('path', {d:smoothPath(c[1].map(project), true), fill:colorFor(c[0])}, fills);
    
    
  });

  const map = make('g', {'clip-path':'url(#clip' + idx + ')', fill:'none', stroke:'#606060', 'stroke-width':'1.9', 'stroke-linejoin':'round'}, g);
  
  
  const coast = make('path', {d:coastlines.map(function(l){ return polyPath(l.map(project)); }).join('')}, map);
  
  
  const borders = make('path', {d:borderlines.map(function(l){ return polyPath(l.map(project)); }).join('')}, map);
  
  

  equatorOceanSpans.forEach(function(span){
    const eq = make('line', {x1:X(span[0]), x2:X(span[1]), y1:Y(0), y2:Y(0), stroke:'#444', 'stroke-width':'1.5', 'stroke-dasharray':'5.5 4'}, g);
    
    
  });
  const pm = make('line', {x1:X(0), x2:X(0), y1:Y(meridianOceanSpan[0]), y2:Y(meridianOceanSpan[1]), stroke:'#444', 'stroke-width':'1.5', 'stroke-dasharray':'5.5 4'}, g);
  
  

  const lines = make('g', {'clip-path':'url(#clip' + idx + ')', fill:'none', 'stroke-width':'1.9'}, g);
  
  
  panelLines[idx].forEach(function(l){
    const el = make('path', {d:smoothPath(l[2].map(project), l[1]), stroke:lineColors[l[0]]}, lines);
    
    
  });

  let tickD = '';
  for (let lon = -90; lon <= 90; lon += 10){
    const major = lonTickValues.indexOf(lon) >= 0;
    const len = major ? 6.5 : 3.5;
    tickD += 'M' + X(lon) + ' ' + top + 'v' + (-len) + 'M' + X(lon) + ' ' + (top + PANEL_H) + 'v' + len;
  }
  for (let lat = -10; lat <= 30; lat += 2){
    const major = lat % 10 === 0;
    const len = major ? 5.5 : 3;
    tickD += 'M' + left + ' ' + Y(lat) + 'h' + (-len) + 'M' + (left + PANEL_W) + ' ' + Y(lat) + 'h' + len;
  }
  const ticks = make('path', {d:tickD, stroke:'#000', 'stroke-width':'1.9', fill:'none'}, g);
  
  

  const frame = make('rect', {x:left, y:top, width:PANEL_W, height:PANEL_H, fill:'none', stroke:'#000', 'stroke-width':'3'}, g);
  
  

  const t = make('text', {x:left - (col ? 1 : 0), y:top - 7, 'font-size':'34.8'}, g);
  t.textContent = title;
  
  

  if (row === 0){
    const h = make('text', {x:left + PANEL_W + (col ? -1 : 0.5), y:top - 7, 'font-size':'34.8', 'text-anchor':'end'}, g);
    h.textContent = columnHeadings[col];
    
    
  }
  if (col === 0){
    latTickValues.forEach(function(lat, i){
      const lab = make('text', {x:74, y:Y(lat) + 12, 'font-size':'34.5', 'text-anchor':'end'}, g);
      lab.textContent = latTickLabels[i];
      
      
    });
  }
  if (row === 3){
    lonTickValues.forEach(function(lon, i){
      const lab = make('text', {x:X(lon) - 0.5, y:910.5, 'font-size':'34.8', 'text-anchor':'middle'}, g);
      lab.textContent = lonTickLabels[i];
      
      
    });
  }
});

/* ---------- colorbar ---------- */
const cbRoot = document.getElementById('colorbar');
const cbLeft = 229.5, cbTop = 971.5, cbBox = 54.9, cbHeight = 23.5;
bandColors.forEach(function(color, i){
  const box = make('rect', {x:cbLeft + i * cbBox, y:cbTop, width:cbBox, height:cbHeight, fill:color, stroke:'#111', 'stroke-width':'1.2'}, cbRoot);
  
  
});
colorbarTickLabels.forEach(function(label, i){
  const lab = make('text', {x:cbLeft + (i + 1) * cbBox, y:1023, 'font-size':'30', 'text-anchor':'middle'}, cbRoot);
  lab.textContent = label;
  
  
});
</script>
</body>
</html>
